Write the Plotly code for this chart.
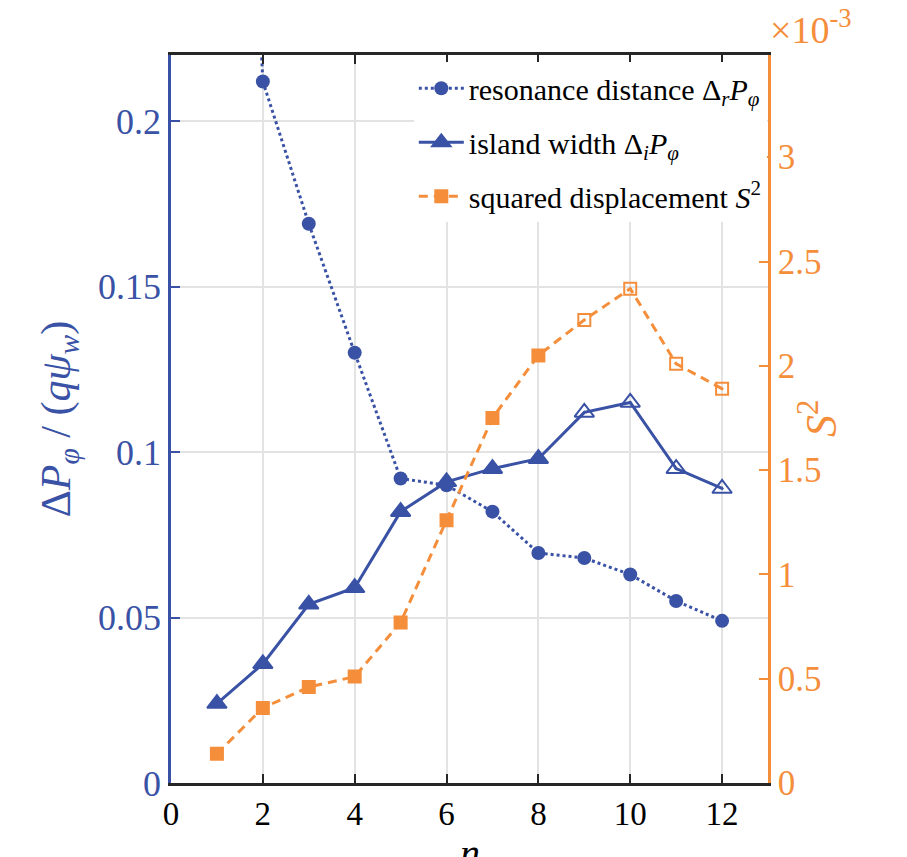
import plotly.graph_objects as go

n = [1, 2, 3, 4, 5, 6, 7, 8, 9, 10, 11, 12]
res_dist = [0.50, 0.212, 0.169, 0.130, 0.092, 0.090, 0.082, 0.0695, 0.068, 0.063, 0.055, 0.049]
island_w = [0.024, 0.036, 0.054, 0.059, 0.082, 0.091, 0.095, 0.098, 0.112, 0.115, 0.095, 0.089]
s2_e3 = [0.14, 0.36, 0.46, 0.51, 0.77, 1.26, 1.75, 2.05, 2.22, 2.37, 2.01, 1.89]
open_from = 9

BLUE = "#3A52A5"
ORANGE = "#F58E3B"
FONT = "Liberation Serif"

tri_sym = ["triangle-up" if v < open_from else "triangle-up-open-dot" for v in n]
sq_sym = ["square" if v < open_from else "square-open-dot" for v in n]

fig = go.Figure()
fig.add_trace(go.Scatter(
    x=n, y=res_dist, mode="lines+markers",
    name="resonance distance Δ<sub><i>r</i></sub><i>P</i><sub><i>φ</i></sub>",
    line=dict(color=BLUE, width=3, dash="dot"),
    marker=dict(symbol="circle", size=14, color=BLUE),
    legendgroup="a",
))
fig.add_trace(go.Scatter(
    x=n, y=island_w, mode="lines+markers",
    name="island width Δ<sub><i>i</i></sub><i>P</i><sub><i>φ</i></sub>",
    line=dict(color=BLUE, width=3),
    marker=dict(symbol=tri_sym, size=17, color=BLUE, line=dict(color=BLUE, width=2)),
    legendgroup="b",
))
fig.add_trace(go.Scatter(
    x=n, y=s2_e3, mode="lines+markers", yaxis="y2",
    name="squared displacement <i>S</i><sup>2</sup>",
    line=dict(color=ORANGE, width=3, dash="9px,6px"),
    marker=dict(symbol=sq_sym, size=12, color=ORANGE, line=dict(color=ORANGE, width=2)),
    legendgroup="c",
))

fig.update_layout(
    width=907, height=857,
    margin=dict(l=171, r=139, t=55, b=74, autoexpand=False),
    paper_bgcolor="white", plot_bgcolor="white",
    font=dict(family=FONT, size=28, color="black"),
    showlegend=True,
    legend=dict(
        x=0.998, y=0.99, xanchor="right", yanchor="top",
        bgcolor="white", borderwidth=0,
        font=dict(family=FONT, size=30, color="black"),
        tracegroupgap=12, traceorder="grouped",
        itemwidth=45,
    ),
    xaxis=dict(
        range=[0, 13], tickvals=[0, 2, 4, 6, 8, 10, 12],
        showgrid=True, gridcolor="#E3E3E3", gridwidth=2,
        showline=True, linecolor="#262626", linewidth=2.5, mirror="ticks",
        ticks="inside", ticklen=9, tickwidth=2, tickcolor="#262626",
        tickfont=dict(family=FONT, size=33, color="black"),
        zeroline=False, automargin=False,
    ),
    yaxis=dict(
        range=[0, 0.22], tickvals=[0, 0.05, 0.1, 0.15, 0.2],
        ticktext=["0", "0.05", "0.1", "0.15", "0.2"],
        showgrid=True, gridcolor="#E3E3E3", gridwidth=2,
        showline=True, linecolor=BLUE, linewidth=2.5,
        ticks="inside", ticklen=9, tickwidth=2, tickcolor=BLUE,
        tickfont=dict(family=FONT, size=36, color=BLUE),
        zeroline=False, automargin=False,
        title=dict(text="Δ<i>P</i><sub><i>φ</i></sub> / (<i>qψ</i><sub><i>w</i></sub>)",
                   font=dict(family=FONT, size=42, color=BLUE)),
    ),
    yaxis2=dict(
        range=[0, 3.49], tickvals=[0, 0.5, 1, 1.5, 2, 2.5, 3],
        ticktext=["0", "0.5", "1", "1.5", "2", "2.5", "3"],
        overlaying="y", side="right", anchor="x",
        showgrid=False,
        showline=True, linecolor=ORANGE, linewidth=2.5,
        ticks="inside", ticklen=9, tickwidth=2, tickcolor=ORANGE,
        tickfont=dict(family=FONT, size=35, color=ORANGE),
        zeroline=False, automargin=False,
    ),
    annotations=[
        dict(
            text="×10<sup>-3</sup>", xref="paper", yref="paper", x=1.0, y=1.0,
            xanchor="left", yanchor="bottom", showarrow=False,
            font=dict(family=FONT, size=38, color=ORANGE), yshift=2,
        ),
        dict(
            text="<i>S</i><sup>2</sup>", xref="paper", yref="paper", x=1.0, y=0.5,
            xanchor="center", yanchor="middle", showarrow=False, textangle=-90,
            font=dict(family=FONT, size=44, color=ORANGE), xshift=50,
        ),
        dict(
            text="<i>n</i>", xref="paper", yref="paper", x=0.5, y=0.0,
            xanchor="center", yanchor="middle", showarrow=False,
            font=dict(family=FONT, size=40, color="black"), yshift=-70,
        ),
    ],
)

fig.write_html("out.html")
